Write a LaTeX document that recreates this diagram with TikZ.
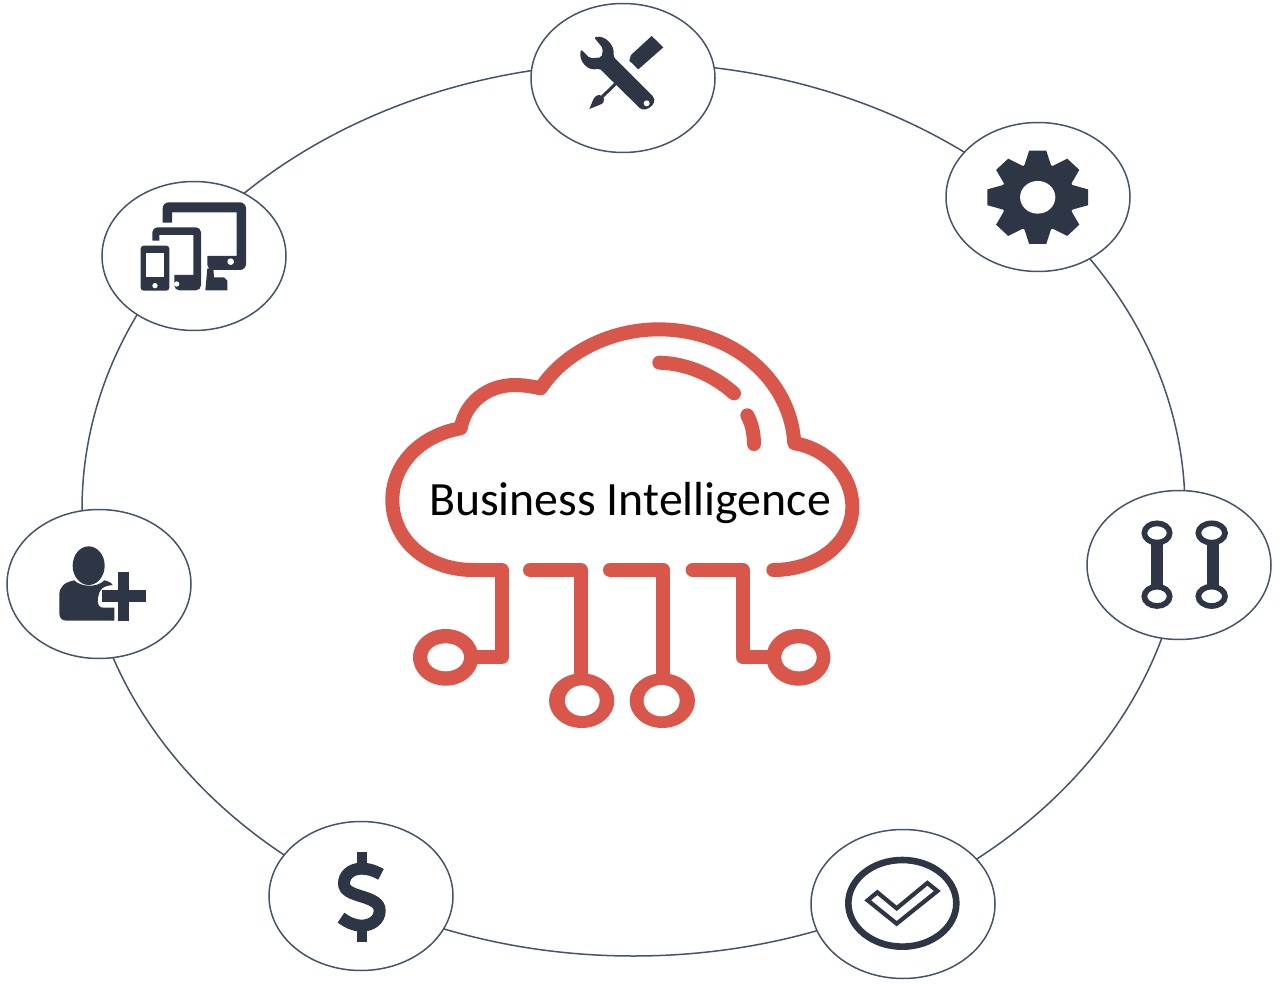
\documentclass[tikz,border=0pt]{standalone}
\usepackage{fontspec}
\setmainfont{Carlito}
\usetikzlibrary{shapes.geometric}
\definecolor{iconnavy}{HTML}{2E3646}
\definecolor{ringblue}{HTML}{44546A}
\definecolor{cloudred}{HTML}{D9564A}
\tikzset{
  ringline/.style={shape=ellipse,draw=ringblue,line width=1.5pt,inner sep=0pt,minimum width=1103pt,minimum height=893pt},
  badge/.style={shape=ellipse,draw=ringblue,fill=white,line width=1.5pt,inner sep=0pt,minimum width=184pt,minimum height=149pt},
  iconfill/.style={fill=iconnavy,draw=none},
  holefill/.style={fill=white,draw=none},
  cloudline/.style={draw=cloudred,line width=14pt,line cap=round,line join=round,fill=none},
  zoomed/.style={x=0.33333pt,y=-0.33333pt},
}
\begin{document}
\begin{tikzpicture}[x=1pt,y=-1pt]
\useasboundingbox (0,0) rectangle (1280,984);
\fill[white] (0,0) rectangle (1280,984);
\node[ringline] (orbit) at (633.5,509.5) {};
\node[badge] (tools) at (623,78) {};
\node[badge] (gear) at (1038,197) {};
\node[badge] (links) at (1179,565) {};
\node[badge] (check) at (903,904) {};
\node[badge] (dollar) at (361,896) {};
\node[badge] (person) at (99,584) {};
\node[badge] (devices) at (194,256) {};
% tools
\begin{scope}[shift={(530,0)},zoomed]
\fill[iconfill,rounded corners=2pt] (192,112) .. controls (225,105) and (255,135) .. (250,170) -- (365,285) .. controls (378,300) and (372,315) .. (352,327) .. controls (340,330) and (332,327) .. (325,320) -- (208,205) .. controls (175,215) and (145,185) .. (153,148) -- (180,175) -- (215,172) -- (219,145) -- cycle;
\fill[holefill] (350,310) circle (9);
\fill[iconfill] (365,108) -- (400,142) -- (325,208) -- (298,182) -- (303,165) -- cycle;
\draw[iconnavy,line width=3pt] (258,250) -- (215,292);
\fill[iconfill] (178,327) -- (190,298) .. controls (197,285) and (207,283) .. (213,287) -- (222,297) .. controls (225,305) and (218,312) .. (208,315) -- cycle;
\end{scope}
% gear
\begin{scope}[shift={(1037.7,197.3)},x=1pt,y=1pt,xscale=50.3,yscale=46.7]
\fill[iconfill] (0,0) circle (.73);
\foreach \a in {0,45,...,315}{
  \fill[iconfill,rotate=\a] (.6,-.32) -- (.70,-.26) -- (1,-.17) -- (1,.17) -- (.70,.26) -- (.6,.32) -- cycle;
}
\fill[holefill] (0,0) circle (.35);
\end{scope}
% links
\begin{scope}[shift={(1085,488)},zoomed]
\fill[iconfill] (199,135) rectangle (235,325);
\fill[iconfill] (366,135) rectangle (403,325);
\foreach \cx/\rr in {216/38,380/40}{
  \draw[iconnavy,line width=5.7pt,fill=white] (\cx,135) ellipse [x radius=\rr,y radius=29];
  \draw[iconnavy,line width=5.7pt,fill=white] (\cx,325) ellipse [x radius=\rr,y radius=29];
}
\end{scope}
% check
\begin{scope}[shift={(810,825)},zoomed]
\draw[iconnavy,line width=6.6pt] (277,235) ellipse [x radius=162,y radius=130];
\draw[iconnavy,line width=4.2pt,line join=miter] (173,226) -- (202,202) -- (260,250) -- (352,174) -- (382,198) -- (260,296) -- cycle;
\end{scope}
% dollar
\begin{scope}[shift={(268,820)},zoomed]
\fill[iconfill] (268,97) rectangle (296,135);
\fill[iconfill] (268,325) rectangle (296,365);
\draw[iconnavy,line width=12pt] (339,163) .. controls (315,150) and (300,146) .. (280,146) .. controls (250,146) and (228,165) .. (228,190) .. controls (228,212) and (250,220) .. (283,230) .. controls (315,240) and (335,250) .. (335,272) .. controls (335,300) and (310,317) .. (280,317) .. controls (260,317) and (240,308) .. (219,293);
\end{scope}
% person
\begin{scope}[shift={(5,505)},zoomed]
\fill[iconfill] (251,182) ellipse [x radius=48,y radius=58];
\fill[iconfill] (185,347) .. controls (170,347) and (163,338) .. (163,325) -- (163,270) .. controls (163,245) and (178,232) .. (208,226) .. controls (225,245) and (275,250) .. (298,226) .. controls (310,228) and (320,234) .. (323,240) .. controls (295,243) and (280,250) .. (278,290) .. controls (280,302) and (285,308) .. (295,308) -- (328,308) -- (328,347) -- cycle;
\fill[iconfill] (340,200) rectangle (372,347);
\fill[iconfill] (292,256) rectangle (422,292);
\end{scope}
% devices
\begin{scope}[shift={(100,180)},zoomed]
\fill[iconfill,rounded corners=6pt] (188,128) -- (188,67) -- (438,67) -- (438,270) -- (322,270) [sharp corners] -- (322,228) -- (410,228) -- (410,97) -- (216,97) -- (216,128) -- cycle;
\fill[holefill] (392,245) circle (10);
\fill[iconfill] (340,265) -- (342,292) -- (372,292) -- (382,302) -- (382,331) -- (316,331) -- (322,265) -- cycle;
\fill[iconfill,rounded corners=5pt] (157,182) -- (157,142) -- (303,142) -- (303,331) -- (223,331) [sharp corners] -- (223,285) -- (280,285) -- (280,165) -- (178,165) -- (178,182) -- cycle;
\fill[holefill] (230,312) circle (8);
\fill[iconfill,rounded corners=3pt] (122,197) rectangle (208,332);
\fill[holefill] (138,218) rectangle (192,292);
\fill[holefill] (165,317) circle (8);
\end{scope}
% cloud
\begin{scope}[shift={(380,310)},zoomed]
\draw[cloudline] (280,780) -- (365,780) -- (365,1042) -- (275,1042);
\draw[cloudline,line cap=butt] (280,780) .. controls (140,780) and (37,690) .. (37,570) .. controls (37,460) and (125,375) .. (242,355) .. controls (256,278) and (322,225) .. (405,225) .. controls (430,225) and (460,230) .. (482,235) .. controls (550,130) and (690,58) .. (835,58) .. controls (1060,58) and (1232,210) .. (1243,400) .. controls (1340,415) and (1417,495) .. (1417,590) .. controls (1417,700) and (1310,780) .. (1180,780);
\fill[cloudred] (1180,780) circle (21);
\draw[cloudline] (838,158) .. controls (920,160) and (1000,195) .. (1062,250);
\draw[cloudline] (1102,316) .. controls (1115,340) and (1122,370) .. (1122,402);
\draw[cloudline] (450,780) -- (603,780) -- (603,1100);
\draw[cloudline] (690,780) -- (850,780) -- (850,1100);
\draw[cloudline] (938,780) -- (1088,780) -- (1088,1042) -- (1180,1042);
\fill[cloudred] (197,1042) ellipse [x radius=98,y radius=85];
\fill[white] (197,1042) ellipse [x radius=55,y radius=42];
\fill[cloudred] (605,1172) ellipse [x radius=98,y radius=82];
\fill[white] (607,1172) ellipse [x radius=52,y radius=46];
\fill[cloudred] (847,1172) ellipse [x radius=98,y radius=82];
\fill[white] (845,1172) ellipse [x radius=54,y radius=47];
\fill[cloudred] (1255,1042) ellipse [x radius=96,y radius=85];
\fill[white] (1257,1042) ellipse [x radius=53,y radius=42];
\end{scope}
\node[text=black,inner sep=0pt,anchor=base,font=\fontsize{47.8}{56}\selectfont] (title) at (630,515) {Business Intelligence};
\end{tikzpicture}
\end{document}
